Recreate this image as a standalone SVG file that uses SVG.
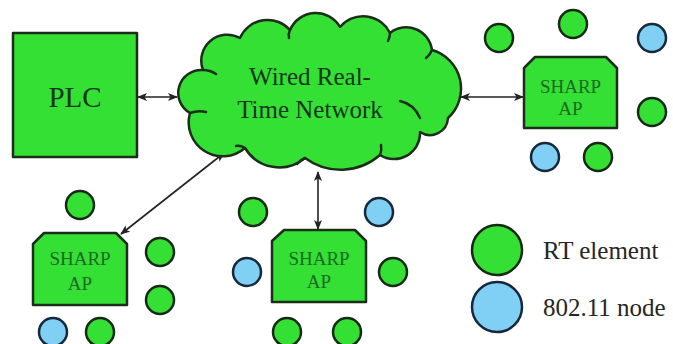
<svg xmlns="http://www.w3.org/2000/svg" width="673" height="344" viewBox="0 0 673 344">
  <style>
    .shape { fill: #35e035; stroke: #1a2e1a; stroke-width: 2.5; stroke-linejoin: round; }
    .rt { fill: #35e035; stroke: #152a15; stroke-width: 2.5; }
    .wifi { fill: #7fd0f4; stroke: #16283a; stroke-width: 2.5; }
    .inner { fill: none; stroke: #1a2e1a; stroke-width: 2.5; stroke-linecap: round; }
    .link { fill: none; stroke: #222; stroke-width: 1.6; marker-start: url(#head); marker-end: url(#head); }
    text { font-family: 'Liberation Serif', 'DejaVu Serif', serif; }
    .big { fill: #12351a; }
    .ap { font-size: 19px; fill: #1c6a22; text-anchor: middle; }
    .legend { font-size: 25px; fill: #262626; }
  </style>
  <defs>
    <marker id="head" viewBox="0 0 10 8" refX="9" refY="4" markerWidth="10" markerHeight="8" markerUnits="userSpaceOnUse" orient="auto-start-reverse">
      <path d="M0,0 L10,4 L0,8 L2.5,4 Z" fill="#222"/>
    </marker>
  </defs>

  <!-- connectors -->
  <g id="connectors">
    <line class="link" x1="138" y1="97" x2="177" y2="97"/>
    <line class="link" x1="461" y1="97" x2="523" y2="97"/>
    <line class="link" x1="224" y1="153" x2="121" y2="234"/>
    <line class="link" x1="318" y1="172" x2="318" y2="229"/>
  </g>

  <!-- controller -->
  <g id="plc">
    <rect class="shape" x="13" y="33" width="124" height="124"/>
    <text class="big" x="75" y="107" font-size="29" text-anchor="middle">PLC</text>
  </g>

  <!-- wired network cloud -->
  <g id="network">
    <path class="shape" d="M 190 113
      A 23 23 0 0 1 203 70
      A 26 26 0 0 1 240 38
      A 30 30 0 0 1 290 30
      A 28 28 0 0 1 340 27
      A 30 30 0 0 1 390 33
      A 26 26 0 0 1 432 50
      A 40 40 0 0 1 448 118
      A 18 18 0 0 1 420 132
      A 26 26 0 0 1 380 155
      A 60 60 0 0 1 305 158
      A 40 40 0 0 1 245 148
      A 34 34 0 0 1 190 113 Z"/>
    <path class="inner" d="M 190 113 Q 198 110 206 112"/>
    <path class="inner" d="M 203 70 Q 210 70 216 74"/>
    <path class="inner" d="M 290 30 Q 288 34 289 38"/>
    <path class="inner" d="M 390 33 Q 390 37 388 41"/>
    <path class="inner" d="M 432 50 Q 430 55 426 58"/>
    <path class="inner" d="M 400 101 Q 414 104 420 118"/>
    <path class="inner" d="M 380 155 Q 382 150 381 145"/>
    <path class="inner" d="M 305 158 Q 300 160 297 164"/>
    <path class="inner" d="M 245 148 Q 240 145 236 146"/>
    <text class="big" x="310" y="85" font-size="25" text-anchor="middle">Wired Real-</text>
    <text class="big" x="310" y="118" font-size="25" text-anchor="middle">Time Network</text>
  </g>

  <!-- access point, right -->
  <g id="ap-right">
    <path class="shape" d="M 535 57 H 606 L 617 68 V 128 H 524 V 68 Z"/>
    <text class="ap" x="570.5" y="93">SHARP</text>
    <text class="ap" x="570.5" y="115">AP</text>
    <circle class="rt" cx="499" cy="38" r="14"/>
    <circle class="rt" cx="573" cy="24" r="14"/>
    <circle class="wifi" cx="652" cy="38" r="14"/>
    <circle class="rt" cx="652" cy="112" r="14"/>
    <circle class="wifi" cx="545" cy="157" r="14"/>
    <circle class="rt" cx="598" cy="157" r="14"/>
  </g>

  <!-- access point, left -->
  <g id="ap-left">
    <path class="shape" d="M 44 233 H 116 L 127 244 V 305 H 33 V 244 Z"/>
    <text class="ap" x="80" y="265">SHARP</text>
    <text class="ap" x="80" y="290">AP</text>
    <circle class="rt" cx="80" cy="205" r="14"/>
    <circle class="rt" cx="160" cy="252" r="14"/>
    <circle class="rt" cx="160" cy="300" r="14"/>
    <circle class="wifi" cx="53" cy="332" r="14"/>
    <circle class="rt" cx="100" cy="332" r="14"/>
  </g>

  <!-- access point, middle -->
  <g id="ap-middle">
    <path class="shape" d="M 284 230 H 355 L 366 241 V 302 H 272 V 241 Z"/>
    <text class="ap" x="319" y="265">SHARP</text>
    <text class="ap" x="319" y="288">AP</text>
    <circle class="rt" cx="253" cy="212" r="14"/>
    <circle class="wifi" cx="379" cy="212" r="14"/>
    <circle class="wifi" cx="247" cy="272" r="14"/>
    <circle class="rt" cx="393" cy="272" r="14"/>
    <circle class="rt" cx="287" cy="332" r="14"/>
    <circle class="rt" cx="347" cy="332" r="14"/>
  </g>

  <!-- legend -->
  <g id="legend">
    <circle class="rt" cx="497" cy="250" r="25"/>
    <text class="legend" x="543" y="259">RT element</text>
    <circle class="wifi" cx="497" cy="307" r="25"/>
    <text class="legend" x="543" y="316">802.11 node</text>
  </g>
</svg>
